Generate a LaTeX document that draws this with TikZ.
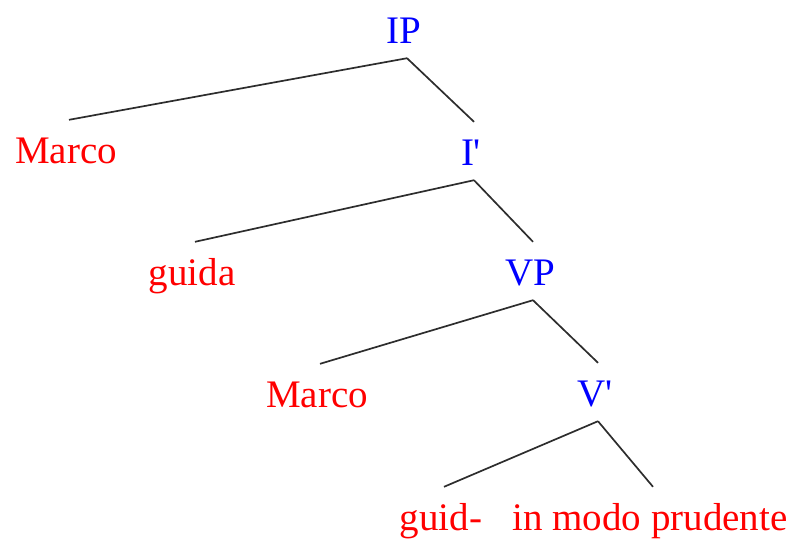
\documentclass[tikz,border=0pt]{standalone}
\usepackage{fontspec}
\setmainfont{Liberation Serif}
\definecolor{catblue}{RGB}{0,0,255}
\definecolor{wordred}{RGB}{255,0,0}
\definecolor{branchgray}{RGB}{45,45,45}
\begin{document}
\begin{tikzpicture}[x=1pt,y=-1pt,
  lbl/.style={anchor=base,inner xsep=0pt,inner ysep=15pt,text height=28pt,text depth=0pt,
    font=\fontsize{39}{39}\selectfont},
  cat/.style={lbl,text=catblue},
  word/.style={lbl,text=wordred},
  branch/.style={draw=branchgray,line width=1.7pt}]
\useasboundingbox (0,0) rectangle (797,547);
% categories
\node[cat] (IP) at (404,43) {IP};
\node[cat] (Ibar) at (471,165) {I\textquotesingle};
\node[cat] (VP) at (530,285) {VP};
\node[cat] (Vbar) at (595,406) {V\textquotesingle};
% words
\node[word] (subj) at (66,163) {Marco};
\node[word] (infl) at (192,285) {guida};
\node[word] (spec) at (317,407) {Marco};
\node[word] (verb) at (441,530) {guid-};
\node[word] (adv) at (650,530) {in modo prudente};
% branches
\foreach \m/\d in {IP/subj,IP/Ibar,Ibar/infl,Ibar/VP,VP/spec,VP/Vbar,Vbar/verb,Vbar/adv}
  \draw[branch] ([xshift=3pt]\m.south) -- ([xshift=3pt]\d.north);
\end{tikzpicture}
\end{document}
